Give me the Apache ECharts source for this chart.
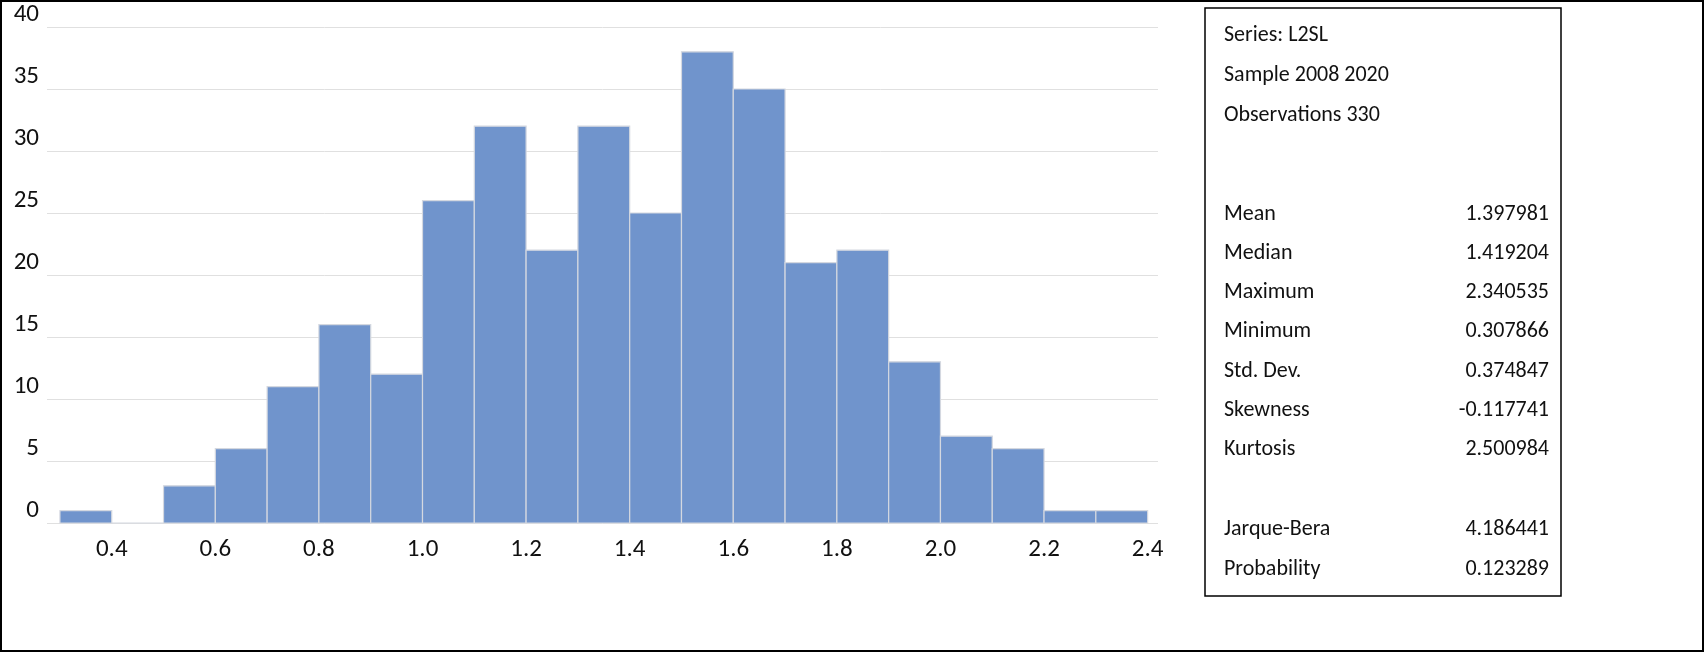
<!DOCTYPE html>
<html><head><meta charset="utf-8">
<script src="https://cdn.jsdelivr.net/npm/echarts@6/dist/echarts.min.js"></script>
<style>html,body{margin:0;padding:0;background:#fff}#c{width:1704px;height:652px;box-sizing:border-box;border:2px solid #000}</style>
</head><body><div id="c"></div>
<script>
const binStart = [0.3,0.4,0.5,0.6,0.7,0.8,0.9,1.0,1.1,1.2,1.3,1.4,1.5,1.6,1.7,1.8,1.9,2.0,2.1,2.2,2.3];
const counts   = [1,0,3,6,11,16,12,26,32,22,32,25,38,35,21,22,13,7,6,1,1];
const binWidth = 0.1;
const xTickLabels = [0.4,0.6,0.8,1.0,1.2,1.4,1.6,1.8,2.0,2.2,2.4];
const headerLines = ['Series: L2SL','Sample 2008 2020','Observations 330'];
const statNames = ['Mean','Median','Maximum','Minimum','Std. Dev.','Skewness','Kurtosis'];
const statValues = ['1.397981','1.419204','2.340535','0.307866','0.374847','-0.117741','2.500984'];
const testNames = ['Jarque-Bera','Probability'];
const testValues = ['4.186441','0.123289'];

const chart = echarts.init(document.getElementById('c'));
const font = 'Calibri, Carlito, "Liberation Sans", sans-serif';
const g = [];
g.push({type:'rect',shape:{x:1203,y:6,width:356,height:588},style:{fill:'none',stroke:'#000',lineWidth:1.5}});
function addText(txt, x, y, align){
  g.push({type:'text',x:x,y:y,style:{text:txt,fill:'#111',font:'22px '+font,textAlign:align,textVerticalAlign:'middle'}});
}
headerLines.forEach((t,i)=>addText(t,1222,33+i*40,'left'));
statNames.forEach((t,i)=>{addText(t,1222,212+i*39.3,'left');addText(statValues[i],1547,212+i*39.3,'right');});
testNames.forEach((t,i)=>{addText(t,1222,527+i*40,'left');addText(testValues[i],1547,527+i*40,'right');});

chart.setOption({
  animation:false,
  grid:{left:45,right:544,top:25,bottom:127},
  xAxis:{type:'value',min:0.275,max:2.42,
    axisLine:{show:false},axisTick:{show:false},splitLine:{show:false},
    axisLabel:{customValues:xTickLabels,formatter:v=>v.toFixed(1),fontSize:25,color:'#111',margin:14,fontFamily:font}},
  yAxis:{type:'value',min:0,max:40,interval:5,
    axisLine:{show:false},axisTick:{show:false},
    splitLine:{lineStyle:{color:'#e0e0e0',width:1}},
    axisLabel:{fontSize:25,color:'#111',margin:8,fontFamily:font,verticalAlign:'bottom'}},
  series:[{type:'custom',
    data:binStart.map((s,i)=>[s,s+binWidth,counts[i]]),
    encode:{x:[0,1],y:2},
    renderItem:(params,api)=>{
      const p0=api.coord([api.value(0),api.value(2)]);
      const p1=api.coord([api.value(1),0]);
      return {type:'rect',shape:{x:p0[0],y:p0[1],width:p1[0]-p0[0],height:p1[1]-p0[1]},
        style:{fill:'#7094cc',stroke:'#d4d8e0',lineWidth:1.2}};
    }}],
  graphic:g
});
</script></body></html>
